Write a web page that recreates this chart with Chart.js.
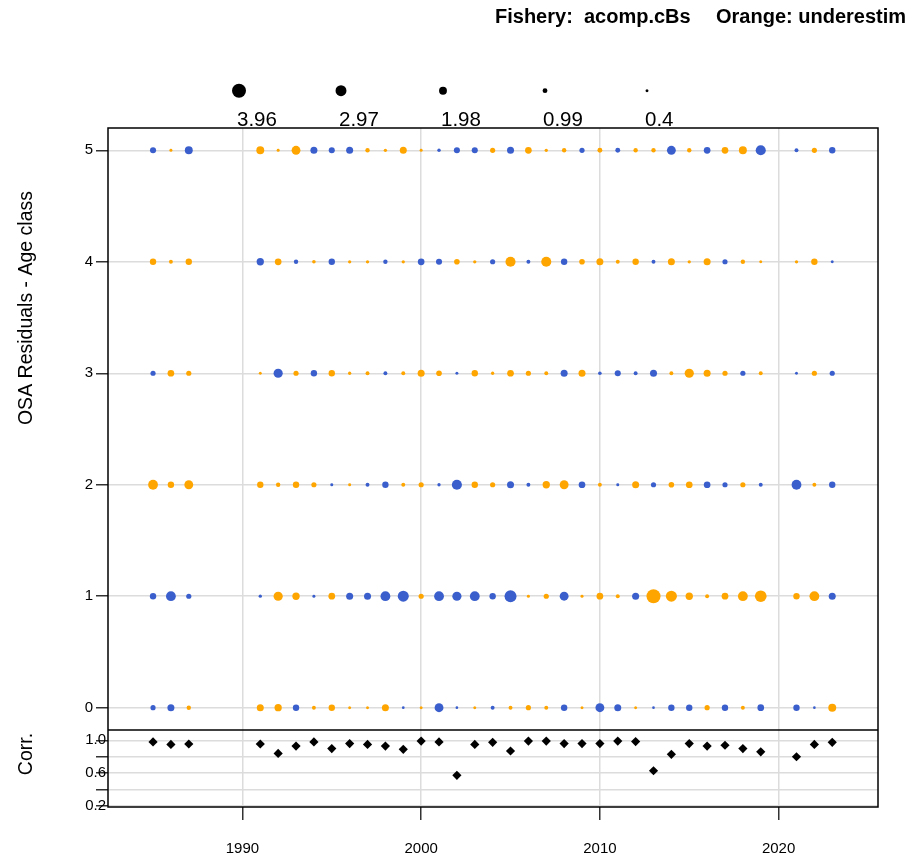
<!DOCTYPE html>
<html>
<head>
<meta charset="utf-8">
<script src="https://cdn.jsdelivr.net/npm/chart.js@4.4.0/dist/chart.umd.min.js"></script>
<style>
html,body{margin:0;padding:0;background:#ffffff;}
#wrap{width:910px;height:858px;position:relative;}
</style>
</head>
<body>
<div id="wrap"><canvas id="c" width="910" height="858"></canvas></div>
<script>
// ---------------- data ----------------
const years = [1985,1986,1987,1991,1992,1993,1994,1995,1996,1997,1998,1999,2000,2001,2002,2003,2004,2005,2006,2007,2008,2009,2010,2011,2012,2013,2014,2015,2016,2017,2018,2019,2021,2022,2023];
const ageClasses = [0,1,2,3,4,5];
const resAge0 = [-1.1,-1.7,0.85, 1.7,1.8,-1.5,0.7,1.5,0.4,0.4,1.7,-0.3,0.4,-2.3,-0.3,0.4,-0.7,0.7,1.1,0.7,-1.5,0.4,-2.3,-1.7,0.4,-0.3,-1.5,-1.5,1.1,-1.5,0.7,-1.6, -1.5,-0.3,2.0];
const resAge1 = [-1.5,-2.6,-1.1, -0.5,2.4,1.8,-0.4,1.6,-1.7,-1.7,-2.6,-3.0,1.1,-2.6,-2.4,-2.6,-1.5,-3.3,0.4,1.1,-2.3,0.4,1.6,0.7,-1.7,3.96,3.0,1.8,0.7,1.6,2.6,3.2, 1.5,2.6,-1.7];
const resAge2 = [2.6,1.5,2.3, 1.5,0.85,1.5,1.1,-0.4,0.4,-0.7,-1.5,0.7,1.1,-0.5,-2.7,1.5,1.1,-1.7,-0.7,1.8,2.3,-1.6,0.7,-0.4,1.7,-1.1,1.25,1.6,-1.6,-1.1,1.1,-0.7, -2.6,0.7,-1.5];
const resAge3 = [-1.1,1.6,1.1, 0.4,-2.4,1.1,-1.5,1.5,0.5,0.7,-0.7,0.7,1.7,1.25,-0.4,1.5,0.5,1.6,1.1,0.7,-1.7,1.7,-0.6,-1.4,-0.7,-1.7,0.7,2.4,1.7,1.1,-1.1,0.7, -0.4,1.1,-1.1];
const resAge4 = [1.5,0.7,1.5, -1.8,1.6,-0.85,0.6,-1.5,0.5,0.5,-0.85,0.5,-1.6,-1.4,1.25,0.5,-1.1,2.7,-0.7,2.7,-1.5,1.25,1.7,0.7,1.5,-0.7,1.7,0.5,1.7,-1.1,0.85,0.4, 0.5,1.5,-0.4];
const resAge5 = [-1.4,0.4,-2.0, 2.0,0.4,2.3,-1.7,-1.4,-1.7,0.85,0.5,1.7,0.4,-0.55,-1.4,-1.4,1.1,-1.7,1.6,0.5,0.85,-1.1,1.0,-1.0,0.85,0.85,-2.3,0.85,-1.6,1.6,2.0,-2.7, -0.7,1.1,-1.5];
const corrValues = [0.98,0.95,0.955, 0.955,0.84,0.93,0.98,0.90,0.96,0.95,0.93,0.89,0.99,0.98,0.575,0.95,0.975,0.87,0.99,0.99,0.96,0.96,0.96,0.99,0.985,0.63,0.83,0.96,0.93,0.94,0.90,0.86, 0.80,0.95,0.975];
const xTickValues = [1990,2000,2010,2020];
const ageTickValues = [0,1,2,3,4,5];
const corrTickValues = [0.2,0.4,0.6,0.8,1.0];
const corrTickLabels = ['0.2','','0.6','','1.0'];
const sizeLegendValues = [3.96,2.97,1.98,0.99,0.4];
const sizeLegendLabels = ['3.96','2.97','1.98','0.99','0.4'];
const titleLeft = 'Fishery:  acomp.cBs';
const titleRight = 'Orange: underestim';
const yTitle = 'OSA Residuals - Age class';
const corrTitle = 'Corr.';

// ---------------- styles ----------------
const FONT = '"Liberation Sans", Arial, Helvetica, sans-serif';
const ORANGE = '#FFA500';
const BLUE = '#3A5FCD';
const GRID = '#dcdcdc';
const bubbleRadius = v => 0.88 + 1.545 * Math.abs(v);
const residualsByAge = [resAge0,resAge1,resAge2,resAge3,resAge4,resAge5];

const datasets = ageClasses.map((age, k) => {
  const res = residualsByAge[k];
  return {
    label: 'age ' + age,
    yAxisID: 'y',
    data: years.map(yr => ({x: yr, y: age})),
    pointRadius: ctx => bubbleRadius(res[ctx.dataIndex]),
    pointHoverRadius: ctx => bubbleRadius(res[ctx.dataIndex]),
    backgroundColor: ctx => res[ctx.dataIndex] > 0 ? ORANGE : BLUE,
    borderWidth: 0,
    showLine: false
  };
});
datasets.push({
  label: 'corr',
  yAxisID: 'y2',
  data: years.map((yr, i) => ({x: yr, y: corrValues[i]})),
  pointStyle: 'rectRot',
  pointRadius: 4.6,
  pointHoverRadius: 4.6,
  backgroundColor: '#000',
  borderWidth: 0,
  showLine: false
});

const decor = {
  id: 'decor',
  afterDraw(chart) {
    const ctx = chart.ctx;
    const a = chart.chartArea;
    const divY = chart.scales.y2.top;
    ctx.save();
    // frame
    ctx.strokeStyle = '#000';
    ctx.lineWidth = 1.5;
    ctx.strokeRect(a.left, a.top, a.right - a.left, a.bottom - a.top);
    ctx.beginPath();
    ctx.moveTo(a.left, divY); ctx.lineTo(a.right, divY);
    ctx.stroke();
    // title
    ctx.fillStyle = '#000';
    ctx.font = 'bold 20px ' + FONT;
    ctx.textAlign = 'left';
    ctx.textBaseline = 'alphabetic';
    ctx.fillText(titleLeft, 495, 23);
    ctx.fillText(titleRight, 716, 23);
    // size legend
    sizeLegendValues.forEach((v, i) => {
      const cx = 239 + i * 102;
      ctx.beginPath();
      ctx.arc(cx, 90.7, bubbleRadius(v), 0, Math.PI * 2);
      ctx.fillStyle = '#000';
      ctx.fill();
      ctx.font = '20.5px ' + FONT;
      ctx.textBaseline = 'middle';
      ctx.fillText(sizeLegendLabels[i], cx - 2, 120);
    });
    // axis titles
    ctx.font = '19.5px ' + FONT;
    ctx.textAlign = 'center';
    ctx.textBaseline = 'middle';
    ctx.save();
    ctx.translate(27, 308);
    ctx.rotate(-Math.PI / 2);
    ctx.fillText(yTitle, 0, 0);
    ctx.restore();
    ctx.save();
    ctx.translate(27, 754);
    ctx.rotate(-Math.PI / 2);
    ctx.fillText(corrTitle, 0, 0);
    ctx.restore();
    ctx.restore();
  }
};

new Chart(document.getElementById('c'), {
  type: 'scatter',
  data: { datasets },
  options: {
    responsive: false,
    animation: false,
    devicePixelRatio: 1,
    layout: { padding: { left: 0, right: 32, top: 128, bottom: 0 } },
    plugins: { legend: { display: false }, tooltip: { enabled: false }, title: { display: false } },
    scales: {
      x: {
        type: 'linear',
        min: 1982.48, max: 2025.56,
        afterBuildTicks: s => { s.ticks = xTickValues.map(v => ({value: v})); },
        afterFit: s => { s.height = 51; },
        grid: { color: GRID, lineWidth: 1.5, tickColor: '#333', tickLength: 13, drawTicks: true },
        border: { display: false },
        ticks: { color: '#000', font: { size: 15, family: FONT }, padding: 20, maxRotation: 0, autoSkip: false, callback: v => String(v) }
      },
      y2: {
        type: 'linear',
        position: 'left',
        stack: 'panels',
        stackWeight: 77,
        min: 0.19, max: 1.125,
        afterBuildTicks: s => { s.ticks = corrTickValues.map(v => ({value: v})); },
        afterFit: s => { s.width = 108; },
        grid: { color: GRID, lineWidth: 1.5, tickColor: '#333', tickLength: 12 },
        border: { display: false },
        ticks: { color: '#000', font: { size: 15, family: FONT }, padding: -10, autoSkip: false, callback: (v, i) => corrTickLabels[i] }
      },
      y: {
        type: 'linear',
        position: 'left',
        stack: 'panels',
        stackWeight: 602,
        min: -0.2, max: 5.2,
        afterBuildTicks: s => { s.ticks = ageTickValues.map(v => ({value: v})); },
        afterFit: s => { s.width = 108; },
        grid: { color: GRID, lineWidth: 1.5, tickColor: '#333', tickLength: 12 },
        border: { display: false },
        ticks: { color: '#000', font: { size: 15, family: FONT }, padding: 3, autoSkip: false, callback: v => String(v) }
      }
    }
  },
  plugins: [decor]
});
</script>
</body>
</html>
